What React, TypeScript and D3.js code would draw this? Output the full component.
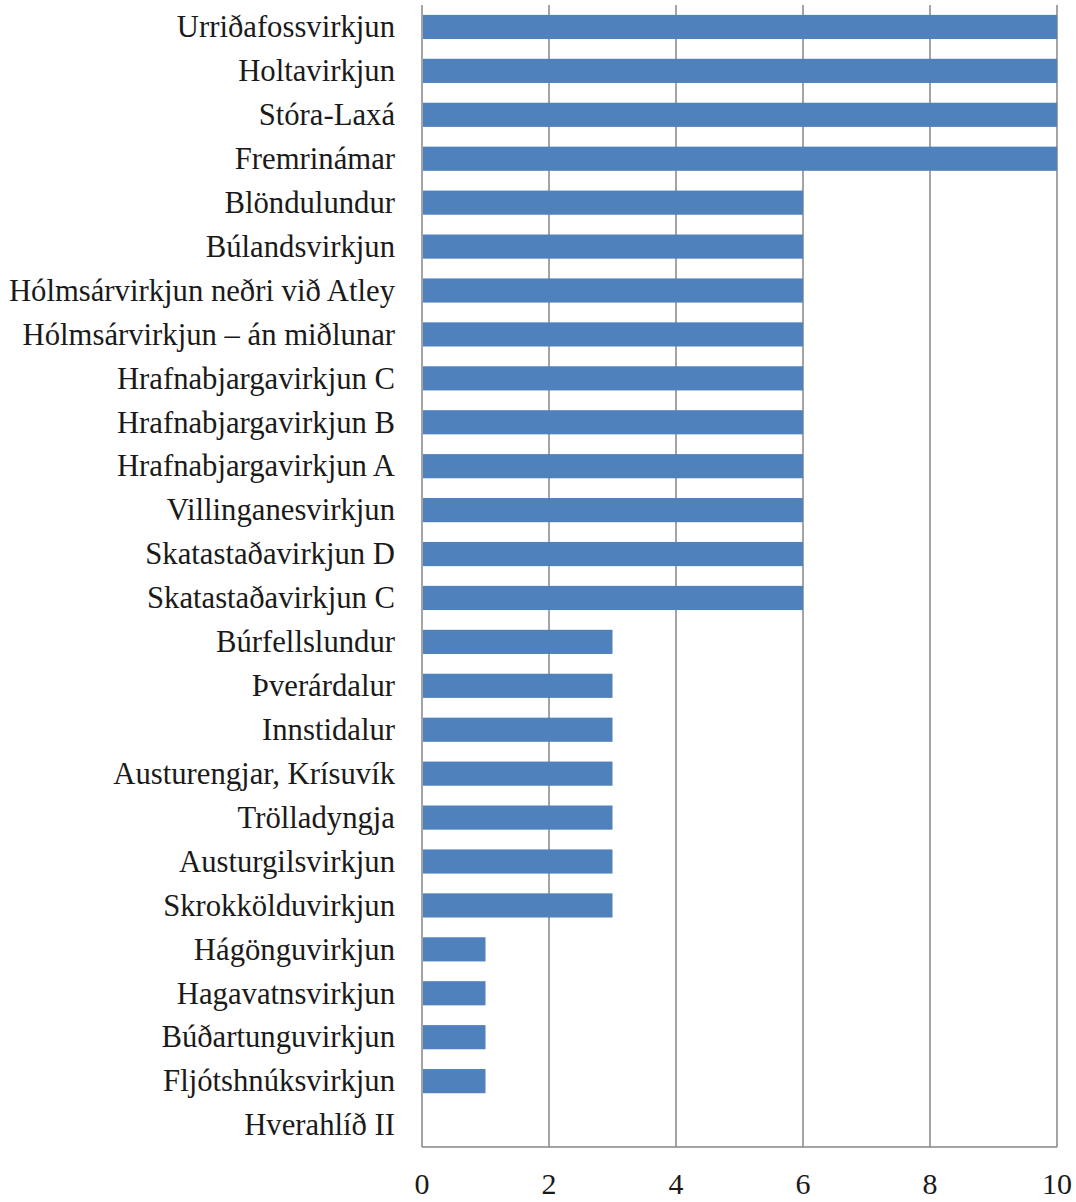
import React from "react";
import * as d3 from "d3";

const categories = [
  "Urriðafossvirkjun",
  "Holtavirkjun",
  "Stóra-Laxá",
  "Fremrinámar",
  "Blöndulundur",
  "Búlandsvirkjun",
  "Hólmsárvirkjun neðri við Atley",
  "Hólmsárvirkjun – án miðlunar",
  "Hrafnabjargavirkjun C",
  "Hrafnabjargavirkjun B",
  "Hrafnabjargavirkjun A",
  "Villinganesvirkjun",
  "Skatastaðavirkjun D",
  "Skatastaðavirkjun C",
  "Búrfellslundur",
  "Þverárdalur",
  "Innstidalur",
  "Austurengjar, Krísuvík",
  "Trölladyngja",
  "Austurgilsvirkjun",
  "Skrokkölduvirkjun",
  "Hágönguvirkjun",
  "Hagavatnsvirkjun",
  "Búðartunguvirkjun",
  "Fljótshnúksvirkjun",
  "Hverahlíð II",
];

const values = [10, 10, 10, 10, 6, 6, 6, 6, 6, 6, 6, 6, 6, 6, 3, 3, 3, 3, 3, 3, 3, 1, 1, 1, 1, 0];

const xTicks = [0, 2, 4, 6, 8, 10];

export default function App() {
  const W = 1076;
  const H = 1202;
  const left = 422;
  const right = 1057;
  const top = 5;
  const bottom = 1147;
  const x = d3.scaleLinear().domain([0, 10]).range([left, right]);
  const y = d3
    .scaleBand<string>()
    .domain(categories)
    .range([top, bottom])
    .paddingInner(0.45)
    .paddingOuter(0.225);
  const font = "'Liberation Serif', 'DejaVu Serif', serif";
  const grid = "#868686";
  return (
    <svg
      width={W}
      height={H}
      style={{ position: "absolute", left: 0, top: 0, background: "#fff" }}
      fontFamily={font}
    >
      {xTicks.map((t) => (
        <line key={"g" + t} x1={x(t)} x2={x(t)} y1={top} y2={bottom} stroke={grid} strokeWidth={1.5} />
      ))}
      <line x1={left} x2={right} y1={bottom} y2={bottom} stroke={grid} strokeWidth={1.5} />
      {categories.map((c, i) => (
        <rect
          key={"b" + c}
          x={x(0) + 1}
          y={y(c)}
          width={Math.max(0, x(values[i]) - x(0) - 1)}
          height={y.bandwidth()}
          fill="#4f81bd"
        />
      ))}
      {categories.map((c) => (
        <text
          key={"l" + c}
          x={395}
          y={(y(c) as number) + y.bandwidth() / 2 - 0.5}
          dy="0.35em"
          textAnchor="end"
          fontSize={30.7}
          fill="#1a1a1a"
        >
          {c}
        </text>
      ))}
      {xTicks.map((t) => (
        <text key={"t" + t} x={x(t)} y={1183.5} dy="0.35em" textAnchor="middle" fontSize={30} fill="#1a1a1a">
          {t}
        </text>
      ))}
    </svg>
  );
}
